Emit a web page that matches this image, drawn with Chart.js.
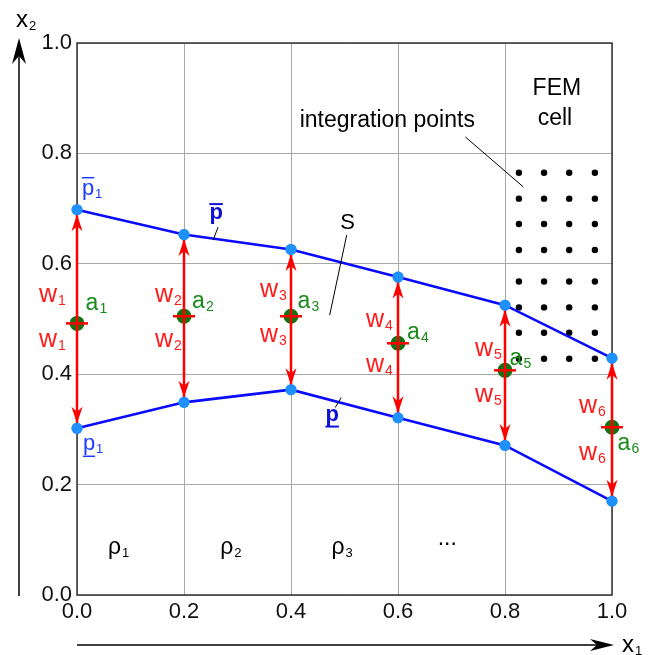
<!DOCTYPE html>
<html><head><meta charset="utf-8">
<script src="https://cdn.jsdelivr.net/npm/chart.js@4.4.1/dist/chart.umd.min.js"></script>
<style>html,body{margin:0;padding:0;background:#fff;}#wrap{width:649px;height:655px;}</style>
</head><body><div id="wrap"><canvas id="c" width="649" height="655"></canvas></div>
<script>
// ---- data ----
const X_NODES = [0.0, 0.2, 0.4, 0.6, 0.8, 1.0];
const UPPER   = [0.698, 0.653, 0.626, 0.576, 0.525, 0.429];
const LOWER   = [0.302, 0.349, 0.372, 0.321, 0.271, 0.170];
const MID     = [0.492, 0.505, 0.505, 0.456, 0.407, 0.304];
const INT_X   = [0.826, 0.873, 0.920, 0.968];
const INT_Y   = [0.765, 0.718, 0.672, 0.625, 0.568, 0.521, 0.475, 0.428];
const TICKS   = [0.0, 0.2, 0.4, 0.6, 0.8, 1.0];
const TICK_LABELS = ['0.0', '0.2', '0.4', '0.6', '0.8', '1.0'];
const NODE_SUBS = ['1', '2', '3', '4', '5', '6'];
const RHO_TEXT = [['ρ','1'], ['ρ','2'], ['ρ','3'], ['...','']];
const RHO_POS  = [[0.07, 0.075], [0.28, 0.075], [0.488, 0.075], [0.692, 0.090]];

// ---- styles / offsets (pixels) ----
const FONT = "'Liberation Sans', Arial, Helvetica, sans-serif";
const W_UP_OFF = [[-29,-21],[-20,-14],[-22,-19],[-23,-16],[-21,-14],[-24,-14]];
const W_DN_OFF = [[-29,24],[-20,31],[-22,26],[-23,29],[-21,32],[-24,33]];
const A_OFF    = [[15,-13],[14.5,-8],[13,-8],[15.5,-4],[11,-5],[12,23]];

const intPts = [];
for (const y of INT_Y) for (const x of INT_X) intPts.push({x, y});
const upperPts = X_NODES.map((x,i)=>({x, y: UPPER[i]}));
const lowerPts = X_NODES.map((x,i)=>({x, y: LOWER[i]}));
const midPts   = X_NODES.map((x,i)=>({x, y: MID[i]}));
const shaftSets = X_NODES.map((x,i)=>({
  label: 'shaft' + i, data: [{x, y: UPPER[i]}, {x, y: LOWER[i]}], showLine: true, clip: false,
  borderColor: '#ff0000', borderWidth: 2.5, pointRadius: 0, order: 4
}));

function head(ctx, x, y, dx, dy, len, half, notch, color) {
  const bx = x - dx*len, by = y - dy*len, nx = -dy, ny = dx;
  ctx.beginPath();
  ctx.moveTo(x, y);
  ctx.lineTo(bx + nx*half, by + ny*half);
  ctx.lineTo(x - dx*(len-notch), y - dy*(len-notch));
  ctx.lineTo(bx - nx*half, by - ny*half);
  ctx.closePath();
  ctx.fillStyle = color; ctx.fill();
}
function txt(ctx, base, s, cx, by, o) {
  ctx.save();
  ctx.font = (o.bold ? 'bold ' : '') + o.size + 'px ' + FONT;
  ctx.fillStyle = o.color; ctx.textAlign = 'center'; ctx.textBaseline = 'alphabetic';
  ctx.fillText(base, cx, by);
  const w = ctx.measureText(base).width;
  if (o.over !== undefined || o.under !== undefined) {
    ctx.strokeStyle = o.color; ctx.lineWidth = o.bold ? 2 : 1.5;
    ctx.beginPath();
    const yy = by + (o.over !== undefined ? o.over : o.under);
    ctx.moveTo(cx - w/2, yy); ctx.lineTo(cx + w/2, yy); ctx.stroke();
  }
  if (s) {
    ctx.font = (o.subSize || 13) + 'px ' + FONT;
    ctx.textAlign = 'left';
    ctx.fillText(s, cx + w/2 + (o.subGap || 1), by + (o.subDrop || 3));
  }
  ctx.restore();
}
function leader(ctx, x1, y1, x2, y2) {
  ctx.save(); ctx.strokeStyle = '#000'; ctx.lineWidth = 1;
  ctx.beginPath(); ctx.moveTo(x1, y1); ctx.lineTo(x2, y2); ctx.stroke(); ctx.restore();
}

const decor = {
  id: 'decor',
  beforeDatasetsDraw(chart) {
    const {ctx, chartArea: a} = chart;
    ctx.save();
    ctx.strokeStyle = '#333'; ctx.lineWidth = 1.5;
    ctx.strokeRect(a.left, a.top, a.right - a.left, a.bottom - a.top);
    ctx.restore();
  },
  afterDatasetsDraw(chart) {
    const {ctx} = chart;
    const xs = chart.scales.x, ys = chart.scales.y;
    const P = (x, y) => [xs.getPixelForValue(x), ys.getPixelForValue(y)];
    X_NODES.forEach((x, i) => {
      const [px, pu] = P(x, UPPER[i]);
      const [, pl] = P(x, LOWER[i]);
      head(ctx, px, pu + 4.5, 0, -1, 17, 5.5, 5, '#ff0000');
      head(ctx, px, pl - 4.5, 0, 1, 17, 5.5, 5, '#ff0000');
    });
    [UPPER, LOWER].forEach(arr => X_NODES.forEach((x, i) => {
      const [px, py] = P(x, arr[i]);
      ctx.beginPath(); ctx.arc(px, py, 5.5, 0, Math.PI*2); ctx.fillStyle = '#1e90ff'; ctx.fill();
    }));
    X_NODES.forEach((x, i) => {
      const [px, py] = P(x, MID[i]);
      txt(ctx, 'w', NODE_SUBS[i], px + W_UP_OFF[i][0], py + W_UP_OFF[i][1], {size: 25, subSize: 14, color: '#ff1a1a', subDrop: 3});
      txt(ctx, 'w', NODE_SUBS[i], px + W_DN_OFF[i][0], py + W_DN_OFF[i][1], {size: 25, subSize: 14, color: '#ff1a1a', subDrop: 3});
      txt(ctx, 'a', NODE_SUBS[i], px + A_OFF[i][0], py + A_OFF[i][1], {size: 23, subSize: 14, color: '#1a8a1a', subDrop: 3});
    });
    const [u0x, u0y] = P(X_NODES[0], UPPER[0]);
    txt(ctx, 'p', '1', u0x + 11, u0y - 15, {size: 22, subSize: 13, color: '#1a3cff', over: -17, subDrop: 3});
    const [l0x, l0y] = P(X_NODES[0], LOWER[0]);
    txt(ctx, 'p', '1', l0x + 12, l0y + 22, {size: 22, subSize: 13, color: '#1a3cff', under: 6, subDrop: 3});
    const [bx, by] = P(0.26, 0.681);
    txt(ctx, 'p', '', bx, by, {size: 22, bold: true, color: '#1010d8', over: -15});
    leader(ctx, bx + 2, by + 8, bx - 3, by + 21);
    const [cx, cy] = P(0.477, 0.316);
    txt(ctx, 'p', '', cx, cy, {size: 22, bold: true, color: '#1010d8', under: 6});
    leader(ctx, cx + 9, cy - 23, cx + 3, cy - 13);
    const [sx, sy] = P(0.506, 0.663);
    txt(ctx, 'S', '', sx, sy, {size: 22, color: '#000'});
    leader(ctx, sx - 1, sy + 6, sx - 18, sy + 86);
    const [ix, iy] = P(0.580, 0.848);
    txt(ctx, 'integration points', '', ix, iy, {size: 23, color: '#000'});
    leader(ctx, ix + 78, iy + 10, ix + 136, iy + 60);
    const [fx, fy] = P(0.897, 0.906);
    txt(ctx, 'FEM', '', fx, fy, {size: 23, color: '#000'});
    txt(ctx, 'cell', '', fx - 2, fy + 30, {size: 23, color: '#000'});
    RHO_TEXT.forEach((t, i) => {
      const [rx, ry] = P(RHO_POS[i][0], RHO_POS[i][1]);
      txt(ctx, t[0], t[1], rx, ry, {size: 23, subSize: 13, color: '#000', subDrop: 3});
    });
  },
  afterDraw(chart) {
    const {ctx, chartArea: a} = chart;
    ctx.save();
    ctx.strokeStyle = '#000'; ctx.lineWidth = 1.5;
    ctx.beginPath(); ctx.moveTo(19, a.bottom + 1); ctx.lineTo(19, 50); ctx.stroke();
    head(ctx, 19, 38, 0, -1, 26, 7, 8, '#000');
    ctx.beginPath(); ctx.moveTo(a.left, 645); ctx.lineTo(a.right - 10, 645); ctx.stroke();
    head(ctx, a.right + 2, 645, 1, 0, 24, 6, 7, '#000');
    ctx.restore();
    txt(ctx, 'x', '2', 22, 27, {size: 24, subSize: 13, color: '#000', subDrop: 3});
    txt(ctx, 'x', '1', 628, 652, {size: 24, subSize: 13, color: '#000', subDrop: 3});
  }
};

const tickOpts = {
  color: '#111',
  font: {family: FONT, size: 22},
  callback: (v) => { const k = TICKS.findIndex(t => Math.abs(t - v) < 1e-6); return k >= 0 ? TICK_LABELS[k] : ''; }
};

new Chart(document.getElementById('c'), {
  type: 'scatter',
  data: {
    datasets: [
      { label: 'upper', data: upperPts, showLine: true, clip: false, borderColor: '#0a0aff', borderWidth: 2.6,
        pointRadius: 5.5, pointBackgroundColor: '#1e90ff', pointBorderWidth: 0, order: 1 },
      { label: 'lower', data: lowerPts, showLine: true, clip: false, borderColor: '#0a0aff', borderWidth: 2.6,
        pointRadius: 5.5, pointBackgroundColor: '#1e90ff', pointBorderWidth: 0, order: 2 },
      { label: 'ticks', data: midPts, clip: false, pointStyle: 'line', pointRadius: 11, borderColor: '#ff0000',
        pointBorderColor: '#ff0000', pointBorderWidth: 2.5, order: 3 },
      ...shaftSets,
      { label: 'mid', data: midPts, clip: false, pointRadius: 7.5, pointBackgroundColor: '#137313', pointBorderWidth: 0, order: 5 },
      { label: 'integration', data: intPts, clip: false, pointRadius: 3.2, pointBackgroundColor: '#000', pointBorderWidth: 0, order: 6 }
    ]
  },
  options: {
    responsive: false, animation: false, events: [],
    layout: { padding: { top: 43, right: 37, left: 0, bottom: 0 } },
    plugins: { legend: { display: false }, tooltip: { enabled: false } },
    scales: {
      x: { type: 'linear', min: 0, max: 1,
        afterFit: (s) => { s.height = 60; },
        afterBuildTicks: (s) => { s.ticks = TICKS.map(v => ({value: v})); },
        grid: { color: '#a8a8a8', lineWidth: 1, drawTicks: false },
        border: { display: false },
        ticks: Object.assign({ padding: 4, maxRotation: 0 }, tickOpts) },
      y: { type: 'linear', min: 0, max: 1,
        afterFit: (s) => { s.width = 77; },
        afterBuildTicks: (s) => { s.ticks = TICKS.map(v => ({value: v})); },
        grid: { color: '#a8a8a8', lineWidth: 1, drawTicks: false },
        border: { display: false },
        ticks: Object.assign({ padding: 5 }, tickOpts) }
    }
  },
  plugins: [decor]
});
</script></body></html>
